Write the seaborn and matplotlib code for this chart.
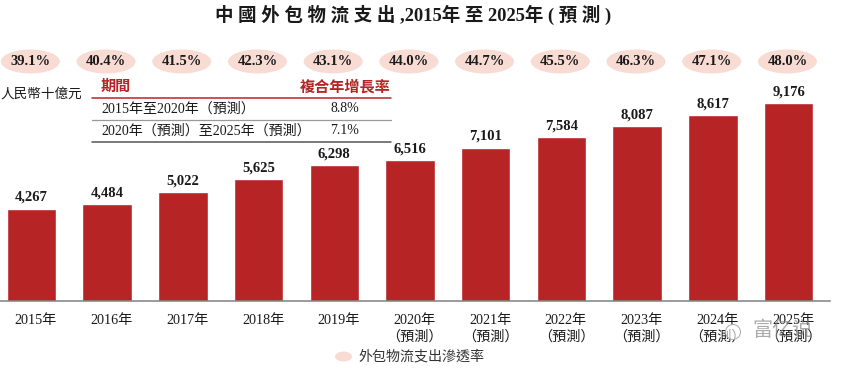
import matplotlib
matplotlib.use('Agg')
import matplotlib.pyplot as plt
from matplotlib.patches import Ellipse
from matplotlib.lines import Line2D
from matplotlib.transforms import blended_transform_factory, ScaledTranslation
import seaborn as sns
import pandas as pd

sns.set_theme(style='white')
plt.rcParams['font.family'] = ['Liberation Serif', 'Noto Sans CJK TC', 'DejaVu Sans']

# data
years = ['2015年', '2016年', '2017年', '2018年', '2019年', '2020年\n（預測）', '2021年\n（預測）',
         '2022年\n（預測）', '2023年\n（預測）', '2024年\n（預測）', '2025年\n（預測）']
spend = [4267, 4484, 5022, 5625, 6298, 6516, 7101, 7584, 8087, 8617, 9176]
rate = ['39.1%', '40.4%', '41.5%', '42.3%', '43.1%', '44.0%', '44.7%', '45.5%', '46.3%', '47.1%', '48.0%']
table_head = ['期間', '複合年增長率']
table_periods = ['2015年至2020年（預測）', '2020年（預測）至2025年（預測）']
table_cagr = ['8.8%', '7.1%']

W, H = 841, 368
RED = '#b72426'
PINK = '#f8dbd3'
TXT = '#1a1a1a'

fig = plt.figure(figsize=(W / 100, H / 100), dpi=100)
fig.patch.set_facecolor('white')
# axes spans pixel x 0-830, y 0-300.5 from top
ax = fig.add_axes([0, 1 - 300.5 / H, 830 / W, 300.5 / H])

df = pd.DataFrame({'year': years, 'spend': spend})
sns.barplot(data=df, x='year', y='spend', color=RED, saturation=1, width=0.654, ax=ax)

ax.set_xlim(-0.416, 10.548)
ax.set_ylim(0, 13964)
ax.set_xlabel('')
ax.set_ylabel('')
ax.set_yticks([])
ax.patch.set_alpha(0)
sns.despine(ax=ax, left=True)
ax.spines['bottom'].set_color('#808080')
ax.spines['bottom'].set_linewidth(1.1)
ax.tick_params(axis='x', length=0, pad=9.5)
ax.set_xticks(range(len(years)))
ax.set_xticklabels(years, fontsize=10.2, color=TXT, linespacing=1.3)
# labels sit a little right of the bar centres in the original
shift = ScaledTranslation(4.5 / 100, 0, fig.dpi_scale_trans)
for lab in ax.get_xticklabels():
    lab.set_transform(lab.get_transform() + shift)

# values above bars
for i, v in enumerate(spend):
    ax.annotate(f'{v:,}', (i, v), xytext=(0, 3.5), textcoords='offset points', ha='center', va='bottom',
                fontsize=10.5, fontweight='bold', color=TXT)

# penetration rate pills, x follows the categories
trans = blended_transform_factory(ax.transData, fig.transFigure)
for i, r in enumerate(rate):
    ax.add_patch(Ellipse((i - 0.015, 1 - 61.5 / H), 0.78, 24 / H, transform=trans, facecolor=PINK, edgecolor='none',
                         clip_on=False))
    ax.text(i - 0.015, 1 - 61.5 / H, r, transform=trans, ha='center', va='center', fontsize=10.5, fontweight='bold',
            color=TXT)


def px(x, y):
    return x / W, 1 - y / H


fig.text(*px(413.5, 15), '中 國 外 包 物 流 支 出 ,2015年 至 2025年 ( 預 測 )', ha='center', va='center',
         fontsize=13.3, fontweight='bold', color=TXT)
fig.text(*px(0, 94), '人民幣十億元', ha='left', va='center', fontsize=9.8, color=TXT)

# CAGR table
fig.text(*px(101, 87), table_head[0], ha='left', va='center', fontsize=10.9, fontweight='bold', color=RED)
fig.text(*px(345.5, 87), table_head[1], ha='center', va='center', fontsize=10.9, fontweight='bold', color=RED)
for y, c, lw in [(98, '#b72426', 1.1), (119.5, '#999999', 0.9), (141.5, '#555555', 1.1)]:
    xa, ya = px(92, y)
    xb, _ = px(391, y)
    fig.add_artist(Line2D([xa, xb], [ya, ya], color=c, lw=lw))
for y, p, c in zip([109, 131], table_periods, table_cagr):
    fig.text(*px(101, y), p, ha='left', va='center', fontsize=10.1, color=TXT)
    fig.text(*px(345, y), c, ha='center', va='center', fontsize=10, color=TXT)

# legend
lx, ly = px(343.5, 356.5)
fig.add_artist(Ellipse((lx, ly), 17 / W, 10 / H, transform=fig.transFigure, facecolor=PINK, edgecolor='none'))
fig.text(*px(358, 357), '外包物流支出滲透率', ha='left', va='center', fontsize=10.1, color='#333333')

# watermark in the lower right corner
wx, wy = px(733, 332)
fig.add_artist(Ellipse((wx, wy), 15 / W, 15 / H, transform=fig.transFigure, facecolor=(1, 1, 1, 0.6),
                       edgecolor='#aaaaaa', lw=0.7))
fig.text(*px(783, 331), '富亿说', ha='center', va='center', fontsize=14.5, color='#888888', alpha=0.7,
         family=['Noto Sans CJK SC', 'DejaVu Sans'])

plt.savefig('out.png', dpi=100)
